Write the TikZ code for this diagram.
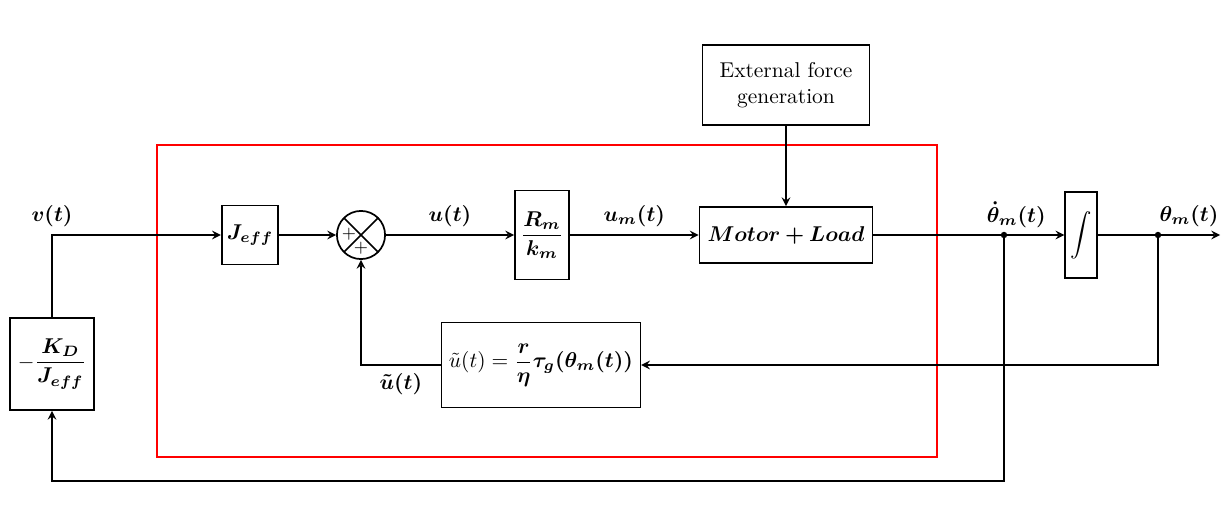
\documentclass[tikz,border=0pt]{standalone}
\usepackage{amsmath,bm}
\usetikzlibrary{arrows,calc}

\tikzstyle{block} = [rectangle, draw=black, thick, text centered, inner sep=2pt]
\tikzstyle{sumnode} = [circle, draw=black, thick, minimum size=0.79cm, inner sep=0pt, path picture={\draw[thick] (path picture bounding box.north west) -- (path picture bounding box.south east); \draw[thick] (path picture bounding box.north east) -- (path picture bounding box.south west);}]
\tikzstyle{arrow} = [thick,->,>=stealth]
\tikzstyle{line} = [thick]

\begin{document}
\begin{tikzpicture}[x=0.0164cm, y=-0.0164cm]
\useasboundingbox (0,0) rectangle (1227,510);

% Nodes
\node (kd) [block, minimum width=1.38cm, minimum height=1.51cm] at (52,364) {$-\dfrac{\bm{K_D}}{\bm{J_{eff}}}$};
\node (jeff) [block, minimum width=0.93cm, minimum height=0.97cm] at (250,235) {$\bm{J_{eff}}$};
\node (sum) [sumnode] at (361,235) {};
\node (plusa) at ($(sum.center)+(-12,-1)$) {\footnotesize $+$};
\node (plusb) at ($(sum.center)+(0,13)$) {\footnotesize $+$};
\node (rk) [block, minimum width=0.89cm, minimum height=1.46cm] at (542,235) {$\dfrac{\bm{R_m}}{\bm{k_m}}$};
\node (plant) [block, minimum width=2.84cm, minimum height=0.92cm] at (786,235) {$\bm{Motor + Load}$};
\node (ext) [block, align=center, minimum width=2.74cm, minimum height=1.31cm] at (786,85) {External force\\generation};
\node (int) [block, minimum width=0.52cm, minimum height=1.41cm] at (1081,235) {$\displaystyle\int$};
\node (grav) [block, minimum width=3.26cm, minimum height=1.39cm] at (541,365) {$\tilde{u}(t) = \dfrac{\bm{r}}{\bm{\eta}}\bm{\tau_g(\theta_m(t))}$};
\coordinate (j1) at (1004,235);
\coordinate (j2) at (1158,235);
\coordinate (out) at (1220,235);

% Box
\draw [red, semithick] (157,145) rectangle (937,457);

% Arrows
\draw [arrow] (kd.north) |- node[pos=0.5, above] {$\bm{v(t)}$} (jeff.west);
\draw [arrow] (jeff) -- (sum);
\draw [arrow] (sum) -- node[above] {$\bm{u(t)}$} (rk);
\draw [arrow] (rk) -- node[above] {$\bm{u_m(t)}$} (plant);
\draw [arrow] (ext) -- (plant);
\draw [line] (plant) -- (j1);
\draw [arrow] (j1) -- (int);
\draw [line] (int) -- (j2);
\draw [arrow] (j2) -- node[above] {$\bm{\theta_m(t)}$} (out);
\node (thd) [above, xshift=0.2cm] at (j1) {$\bm{\dot\theta_m(t)}$};
\draw [arrow] (j2) |- (grav.east);
\draw [arrow] (grav.west) -| node[pos=0.25, below] {$\bm{\tilde{u}(t)}$} (sum.south);
\draw [arrow] (j1) -- ++(0,246) -| (kd.south);
\fill (j1) circle (1.5pt);
\fill (j2) circle (1.5pt);

\end{tikzpicture}
\end{document}
